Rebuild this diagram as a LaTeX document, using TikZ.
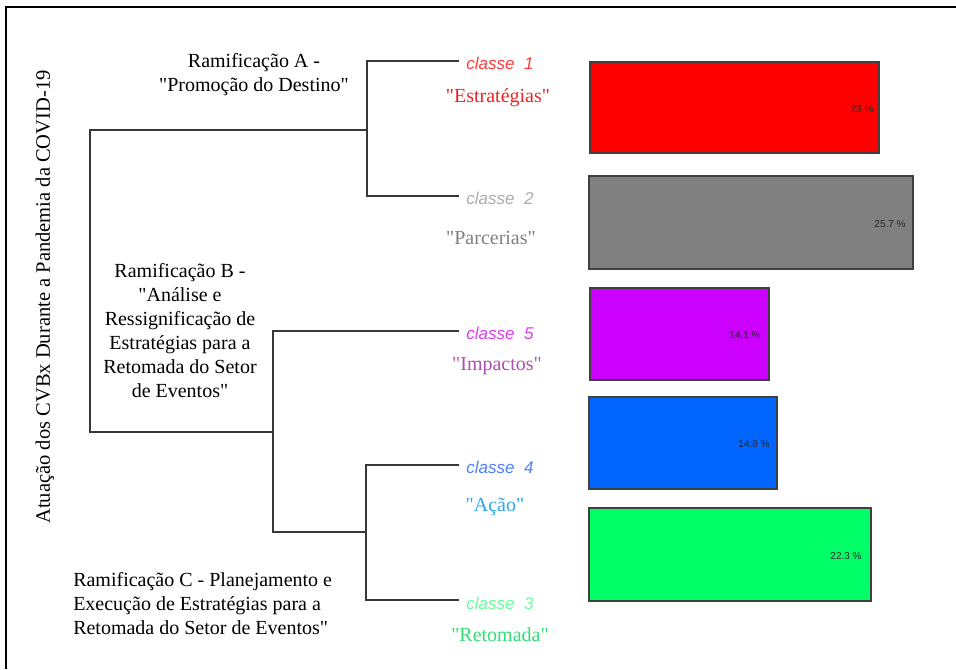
\documentclass[tikz,border=0pt]{standalone}
\usepackage{fontspec}
\setmainfont{Liberation Serif}
\setsansfont{Liberation Sans}
\newcommand{\dq}{\textquotedbl}
\definecolor{c1t}{HTML}{FF3B3B}
\definecolor{c1l}{HTML}{EE2222}
\definecolor{c2t}{HTML}{ABABAB}
\definecolor{c2l}{HTML}{808080}
\definecolor{c5t}{HTML}{E03CF0}
\definecolor{c5l}{HTML}{B04DB0}
\definecolor{c4t}{HTML}{4F7FFF}
\definecolor{c4l}{HTML}{2AA8E8}
\definecolor{c3t}{HTML}{66FF99}
\definecolor{c3l}{HTML}{33DD77}
\definecolor{bred}{HTML}{FF0000}
\definecolor{bgray}{HTML}{808080}
\definecolor{bpurp}{HTML}{CC00FF}
\definecolor{bblue}{HTML}{0066FF}
\definecolor{bgreen}{HTML}{00FF66}
\begin{document}
\begin{tikzpicture}[x=0.75pt,y=-0.75pt,
  dend/.style={draw=black!78,line width=1.4pt},
  bar/.style={draw=black!75,line width=1.1pt},
  classe/.style={anchor=west,inner sep=0pt,font=\sffamily\itshape\fontsize{12.8}{14}\selectfont},
  tag/.style={inner sep=0pt,font=\fontsize{15}{18}\selectfont},
  ram/.style={inner sep=0pt,font=\fontsize{15}{18}\selectfont,text=black},
  pct/.style={inner sep=0pt,font=\sffamily\fontsize{7.5}{8}\selectfont,text=black!85}]
\useasboundingbox (0,0) rectangle (956,669);
% frame
\draw[line width=1.6pt,black] (956,7) -- (6,7) -- (6,669);
% title
\node[ram,rotate=90,font=\fontsize{15.4}{18}\selectfont] (title) at (45,297) {Atuação dos CVBx Durante a Pandemia da COVID-19};
% dendrogram coordinates
\coordinate (l1) at (459,61);
\coordinate (l2) at (459,196);
\coordinate (l5) at (459,331);
\coordinate (l4) at (459,465);
\coordinate (l3) at (459,600);
\coordinate (nA) at (367,130);
\coordinate (rA) at (90,130);
\coordinate (rB) at (90,432);
\coordinate (nBC) at (273,432);
\coordinate (nC) at (366,532);
\draw[dend] (l1) -| (nA) |- (l2);
\draw[dend] (nA) -- (rA) -- (rB) -- (nBC);
\draw[dend] (l5) -| (nBC) |- (nC);
\draw[dend] (l4) -| (nC) |- (l3);
% leaf labels
\node[classe,text=c1t] (k1) at (466,63) {classe\hspace{0.55em}1};
\node[tag,text=c1l] (t1) at (498,98) {\dq Estratégias\dq};
\node[classe,text=c2t] (k2) at (466,198) {classe\hspace{0.55em}2};
\node[tag,text=c2l] (t2) at (491,238) {\dq Parcerias\dq};
\node[classe,text=c5t] (k5) at (466,333) {classe\hspace{0.55em}5};
\node[tag,text=c5l] (t5) at (497,366) {\dq Impactos\dq};
\node[classe,text=c4t] (k4) at (466,467) {classe\hspace{0.55em}4};
\node[tag,text=c4l] (t4) at (495,507) {\dq Ação\dq};
\node[classe,text=c3t] (k3) at (466,603) {classe\hspace{0.55em}3};
\node[tag,text=c3l] (t3) at (500,635) {\dq Retomada\dq};
% branch labels
\node[ram,align=center] (ramA) at (254,75) {Ramificação A -\\\dq Promoção do Destino\dq};
\node[ram,align=center] (ramB) at (180,331) {Ramificação B -\\\dq Análise e\hspace{28pt}\\Ressignificação de\\Estratégias para a\\Retomada do Setor\\de Eventos\dq};
\node[ram,align=left,anchor=west] (ramC) at (73,604) {Ramificação C - Planejamento e\\Execução de Estratégias para a\\Retomada do Setor de Eventos\dq};
% bars
\draw[bar,fill=bred] (590,62) rectangle (879,153);
\node[pct] (p1) at (862,109) {23 \%};
\draw[bar,fill=bgray] (589,176) rectangle (913,269);
\node[pct] (p2) at (890,224) {25.7 \%};
\draw[bar,fill=bpurp] (590,288) rectangle (769,380);
\node[pct] (p5) at (745,335) {14.1 \%};
\draw[bar,fill=bblue] (589,397) rectangle (777,489);
\node[pct] (p4) at (754,444) {14.8 \%};
\draw[bar,fill=bgreen] (589,508) rectangle (871,601);
\node[pct] (p3) at (846,556) {22.3 \%};
\end{tikzpicture}
\end{document}
